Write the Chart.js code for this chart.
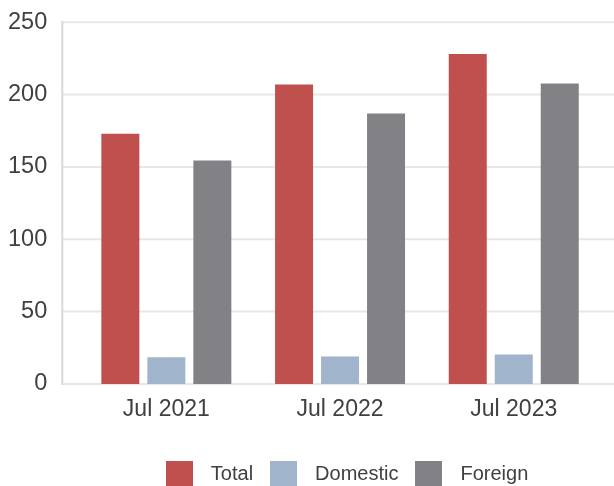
<!DOCTYPE html>
<html>
<head>
<meta charset="utf-8">
<script src="https://cdn.jsdelivr.net/npm/chart.js@4/dist/chart.umd.min.js"></script>
<style>
html,body{margin:0;padding:0;background:#fff;overflow:hidden;width:614px;height:486px;}
#wrap{width:614px;height:486px;overflow:hidden;position:relative;}
canvas{display:block;position:absolute;left:0;top:0;}
</style>
</head>
<body>
<div id="wrap"><canvas id="c" width="614" height="500" style="width:614px;height:500px;"></canvas></div>
<script>
const categories = ['Jul 2021', 'Jul 2022', 'Jul 2023'];
const seriesNames = ['Total', 'Domestic', 'Foreign'];
const totalValues = [173, 207, 228];
const domesticValues = [18.5, 19, 20.3];
const foreignValues = [154.5, 187, 207.7];
const yTicks = [0, 50, 100, 150, 200, 250];

const colors = ['#c0504d', '#a0b4cb', '#818186'];
const textColor = '#404040';
const fontFamily = "'Liberation Sans', Arial, sans-serif";

function swatch(color) {
  const c = document.createElement('canvas');
  c.width = 27; c.height = 27;
  const g = c.getContext('2d');
  g.fillStyle = color;
  g.fillRect(0, 0, 27, 27);
  return c;
}

const gridPlugin = {
  id: 'extGrid',
  afterLayout(chart) {
    if (chart.legend) { chart.legend.left += 3; chart.legend.right += 3; }
  },
  beforeDatasetsDraw(chart) {
    const ctx = chart.ctx;
    const y = chart.scales.y;
    const left = 62.3;
    ctx.save();
    ctx.lineWidth = 2;
    ctx.strokeStyle = '#e7e7e7';
    yTicks.forEach(v => {
      const py = y.getPixelForValue(v);
      ctx.beginPath();
      ctx.moveTo(left, py);
      ctx.lineTo(chart.width, py);
      ctx.stroke();
    });
    ctx.strokeStyle = '#d9d9d9';
    ctx.beginPath();
    ctx.moveTo(left, y.getPixelForValue(250) - 1);
    ctx.lineTo(left, y.getPixelForValue(0) + 1);
    ctx.stroke();
    ctx.restore();
  }
};

const data = {
  labels: categories,
  datasets: [
    { label: seriesNames[0], data: totalValues, backgroundColor: colors[0] },
    { label: seriesNames[1], data: domesticValues, backgroundColor: colors[1] },
    { label: seriesNames[2], data: foreignValues, backgroundColor: colors[2] }
  ]
};

new Chart(document.getElementById('c'), {
  type: 'bar',
  data: data,
  plugins: [gridPlugin],
  options: {
    responsive: false,
    animation: false,
    devicePixelRatio: 1,
    layout: { padding: { left: 0, right: 13.4, top: 22.3, bottom: 6 } },
    datasets: { bar: { categoryPercentage: 0.7945, barPercentage: 0.826, borderWidth: 0 } },
    scales: {
      x: {
        grid: { display: false, drawTicks: false },
        border: { display: false },
        ticks: { color: textColor, font: { family: fontFamily, size: 23 }, padding: 11.5, maxRotation: 0 },
        afterFit(s) { s.height = 71.1; s.paddingLeft = 0; s.paddingRight = 0; }
      },
      y: {
        min: 0, max: 250,
        afterBuildTicks(s) { s.ticks = yTicks.map(v => ({ value: v })); },
        grid: { display: false, drawTicks: false },
        border: { display: false },
        ticks: { color: textColor, font: { family: fontFamily, size: 23.5 }, padding: 32.3 },
        afterFit(s) { s.width = 79.5; s.paddingTop = 0; s.paddingBottom = 0; }
      }
    },
    plugins: {
      tooltip: { enabled: false },
      legend: {
        position: 'bottom',
        fullSize: false,
        labels: {
          color: textColor,
          font: { family: fontFamily, size: 20 },
          usePointStyle: true,
          pointStyleWidth: 43,
          padding: 9,
          generateLabels(chart) {
            return chart.data.datasets.map((ds, i) => ({
              text: ds.label,
              fillStyle: ds.backgroundColor,
              strokeStyle: ds.backgroundColor,
              lineWidth: 0,
              pointStyle: swatch(ds.backgroundColor),
              hidden: false,
              datasetIndex: i,
              fontColor: textColor
            }));
          }
        }
      }
    }
  }
});
</script>
</body>
</html>
